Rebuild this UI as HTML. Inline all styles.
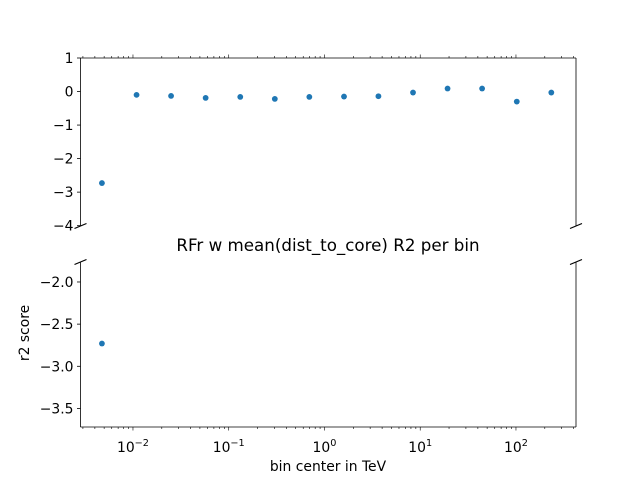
<!DOCTYPE html>
<html><head><meta charset="utf-8"><style>
body{margin:0;background:#fff;}
svg text{font-family:"DejaVu Sans","Liberation Sans",sans-serif;fill:#000;}
</style></head><body>
<svg id="chart" width="640" height="480" xmlns="http://www.w3.org/2000/svg"></svg>
<script>
const binCenters=[0.00474,0.0109,0.0250,0.0574,0.132,0.303,0.695,1.60,3.66,8.41,19.3,44.3,102,234];
const r2Scores=[-2.73,-0.10,-0.13,-0.19,-0.16,-0.22,-0.16,-0.15,-0.14,-0.03,0.09,0.09,-0.30,-0.03];
const topTicks=[1,0,-1,-2,-3,-4];
const topTickLabels=["1","0","\u22121","\u22122","\u22123","\u22124"];
const botTicks=[-2.0,-2.5,-3.0,-3.5];
const botTickLabels=["\u22122.0","\u22122.5","\u22123.0","\u22123.5"];
const xDecades=[-2,-1,0,1,2];

const svg=document.getElementById('chart');
const NS='http://www.w3.org/2000/svg';
const L=80.5,R=576;
const xMinLog=-2.548,xMaxLog=2.627;
const xs=v=>L+(Math.log10(v)-xMinLog)/(xMaxLog-xMinLog)*(R-L);
const T1=58,B1=226,yTop1=1,yBot1=-4.01;
const y1=v=>T1+(yTop1-v)/(yTop1-yBot1)*(B1-T1);
const T2=262,B2=427,yTop2=-1.763,yBot2=-3.72;
const y2=v=>T2+(yTop2-v)/(yTop2-yBot2)*(B2-T2);
function el(tag,attrs,parent){const e=document.createElementNS(NS,tag);for(const k in attrs)e.setAttribute(k,attrs[k]);(parent||svg).appendChild(e);return e;}
function line(x1,y1_,x2,y2_,w){return el('line',{x1:x1,y1:y1_,x2:x2,y2:y2_,stroke:'#000','stroke-width':w||0.8});}
function txt(x,y,s,anchor,size){const t=el('text',{x:x,y:y,'text-anchor':anchor||'middle','font-size':size||13.9});t.textContent=s;return t;}

line(L,T1,R,T1);line(L,T1,L,B1);line(R,T1,R,B1);
line(L,T2,L,B2);line(R,T2,R,B2);line(L,B2,R,B2);
[[L,B1],[R,B1],[L,T2],[R,T2]].forEach(p=>{const b=line(p[0]-6,p[1]+2.5,p[0]+6,p[1]-2.5,1.2);

});

topTicks.forEach((v,i)=>{const y=y1(v);line(L-3.5,y,L,y);const t=txt(L-7,y+5,topTickLabels[i],'end');

});
botTicks.forEach((v,i)=>{const y=y2(v);line(L-3.5,y,L,y);const t=txt(L-7,y+5,botTickLabels[i],'end');

});

for(let d=-3;d<=2;d++){for(let m=1;m<10;m++){const v=m*Math.pow(10,d);const lv=Math.log10(v);if(lv<xMinLog||lv>xMaxLog)continue;const x=xs(v);const len=m===1?3.5:2;
line(x,T1,x,T1-len,0.6);line(x,B2,x,B2+len,0.6);}}
xDecades.forEach(d=>{const x=xs(Math.pow(10,d));const t=el('text',{x:x,y:B2+25,'text-anchor':'middle','font-size':13.9});


t.appendChild(document.createTextNode('10'));const s=el('tspan',{dy:-6,'font-size':9.7},t);s.textContent=String(d).replace('-','\u2212');});

binCenters.forEach((c,i)=>{const v=r2Scores[i];const x=xs(c);
if(v<=yTop1&&v>=yBot1){const p=el('circle',{cx:x,cy:y1(v),r:2.9,fill:'#1f77b4'});

}
if(v<=yTop2&&v>=yBot2){const p=el('circle',{cx:x,cy:y2(v),r:2.9,fill:'#1f77b4'});

}});

const title=txt(328,251,'RFr w mean(dist_to_core) R2 per bin','middle',16.7);


const xl=txt(328,471,'bin center in TeV','middle',13.9);


const yl=el('text',{x:0,y:0,'text-anchor':'middle','font-size':13.9,transform:'translate(29,333) rotate(-90)'});
yl.textContent='r2 score';


</script>
</body></html>
